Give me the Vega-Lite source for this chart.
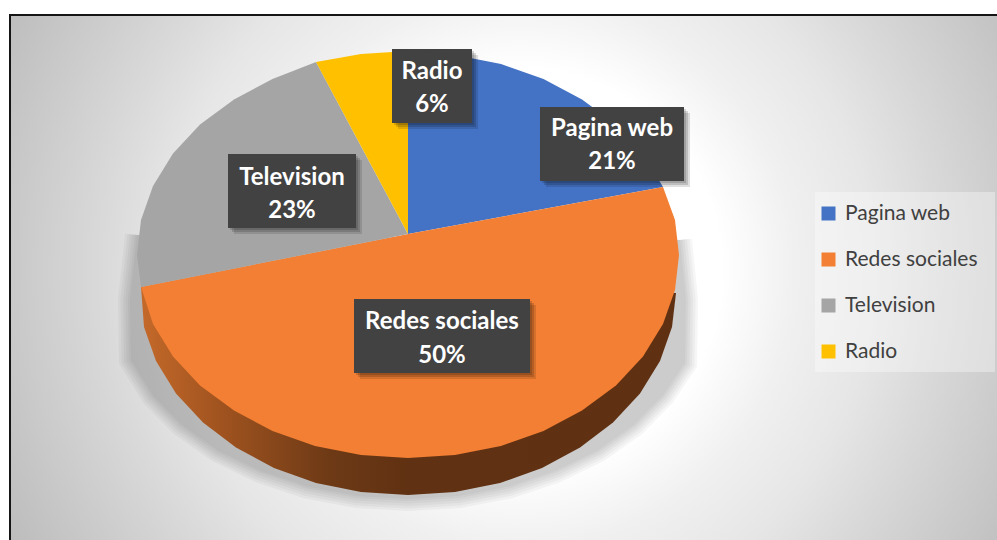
{
  "$schema": "https://vega.github.io/schema/vega-lite/v6.json",
  "width": 997,
  "height": 540,
  "padding": 0,
  "autosize": {"type": "none"},
  "background": "white",
  "view": {"stroke": null},
  "datasets": {
    "backdrop": [{"x": -80, "x2": 1120, "y": -330, "y2": 870}],
    "margins": [
      {"x": 0, "x2": 10, "y": 0, "y2": 540},
      {"x": 0, "x2": 997, "y": 0, "y2": 15}
    ],
    "frame": [
      {"x": 10, "x2": 10, "y": 14, "y2": 540},
      {"x": 10, "x2": 997, "y": 15, "y2": 15}
    ],
    "legendPanel": [{"x": 815, "x2": 995, "y": 192, "y2": 372}],
    "shadow": [
      {"step": 1, "x": 137, "y": 235}, {"step": 2, "x": 130, "y": 300}, {"step": 3, "x": 131, "y": 360},
      {"step": 4, "x": 153, "y": 395.5}, {"step": 5, "x": 182, "y": 425}, {"step": 6, "x": 218, "y": 450.5},
      {"step": 7, "x": 260.5, "y": 471}, {"step": 8, "x": 307, "y": 486.5}, {"step": 9, "x": 357, "y": 496},
      {"step": 10, "x": 408, "y": 499}, {"step": 11, "x": 459, "y": 496}, {"step": 12, "x": 509, "y": 486.5},
      {"step": 13, "x": 555.5, "y": 471}, {"step": 14, "x": 598, "y": 450.5}, {"step": 15, "x": 634, "y": 425},
      {"step": 16, "x": 663, "y": 395.5}, {"step": 17, "x": 685, "y": 363}, {"step": 18, "x": 686, "y": 300},
      {"step": 19, "x": 680, "y": 240}
    ],
    "rim": [
      {"step": 1, "x": 141, "y": 287}, {"step": 2, "x": 144, "y": 327}, {"step": 3, "x": 156, "y": 361},
      {"step": 4, "x": 176, "y": 393.5}, {"step": 5, "x": 203, "y": 422.5}, {"step": 6, "x": 236, "y": 447.5},
      {"step": 7, "x": 274, "y": 468}, {"step": 8, "x": 316, "y": 483}, {"step": 9, "x": 361, "y": 492},
      {"step": 10, "x": 408, "y": 495}, {"step": 11, "x": 455, "y": 492}, {"step": 12, "x": 500, "y": 483},
      {"step": 13, "x": 542, "y": 468}, {"step": 14, "x": 580, "y": 447.5}, {"step": 15, "x": 613, "y": 422.5},
      {"step": 16, "x": 640, "y": 393.5}, {"step": 17, "x": 660, "y": 361}, {"step": 18, "x": 672, "y": 327},
      {"step": 19, "x": 676, "y": 293}
    ],
    "slices": [
      {"slice": "Pagina web", "step": 1, "x": 408, "y": 234}, {"slice": "Pagina web", "step": 2, "x": 408, "y": 51},
      {"slice": "Pagina web", "step": 3, "x": 455, "y": 55}, {"slice": "Pagina web", "step": 4, "x": 501, "y": 64},
      {"slice": "Pagina web", "step": 5, "x": 543.5, "y": 79}, {"slice": "Pagina web", "step": 6, "x": 582, "y": 99.5},
      {"slice": "Pagina web", "step": 7, "x": 616, "y": 124.5}, {"slice": "Pagina web", "step": 8, "x": 643, "y": 153.5},
      {"slice": "Pagina web", "step": 9, "x": 663, "y": 187},

      {"slice": "Redes sociales", "step": 1, "x": 408, "y": 234}, {"slice": "Redes sociales", "step": 2, "x": 663, "y": 187},
      {"slice": "Redes sociales", "step": 3, "x": 675, "y": 220}, {"slice": "Redes sociales", "step": 4, "x": 679, "y": 255},
      {"slice": "Redes sociales", "step": 5, "x": 675, "y": 290}, {"slice": "Redes sociales", "step": 6, "x": 663, "y": 324},
      {"slice": "Redes sociales", "step": 7, "x": 643, "y": 356.5}, {"slice": "Redes sociales", "step": 8, "x": 616, "y": 385.5},
      {"slice": "Redes sociales", "step": 9, "x": 582, "y": 410.5}, {"slice": "Redes sociales", "step": 10, "x": 543.5, "y": 431},
      {"slice": "Redes sociales", "step": 11, "x": 501, "y": 446}, {"slice": "Redes sociales", "step": 12, "x": 455, "y": 455},
      {"slice": "Redes sociales", "step": 13, "x": 408, "y": 458}, {"slice": "Redes sociales", "step": 14, "x": 361, "y": 455},
      {"slice": "Redes sociales", "step": 15, "x": 315, "y": 446}, {"slice": "Redes sociales", "step": 16, "x": 272.5, "y": 431},
      {"slice": "Redes sociales", "step": 17, "x": 234, "y": 410.5}, {"slice": "Redes sociales", "step": 18, "x": 200, "y": 385.5},
      {"slice": "Redes sociales", "step": 19, "x": 173, "y": 356.5}, {"slice": "Redes sociales", "step": 20, "x": 153, "y": 324},
      {"slice": "Redes sociales", "step": 21, "x": 141, "y": 287},

      {"slice": "Television", "step": 1, "x": 408, "y": 234}, {"slice": "Television", "step": 2, "x": 141, "y": 287},
      {"slice": "Television", "step": 3, "x": 137, "y": 255}, {"slice": "Television", "step": 4, "x": 141, "y": 220},
      {"slice": "Television", "step": 5, "x": 153, "y": 186}, {"slice": "Television", "step": 6, "x": 173, "y": 153.5},
      {"slice": "Television", "step": 7, "x": 200, "y": 124.5}, {"slice": "Television", "step": 8, "x": 234, "y": 99.5},
      {"slice": "Television", "step": 9, "x": 272.5, "y": 79}, {"slice": "Television", "step": 10, "x": 316, "y": 62},

      {"slice": "Radio", "step": 1, "x": 408, "y": 234}, {"slice": "Radio", "step": 2, "x": 316, "y": 62},
      {"slice": "Radio", "step": 3, "x": 361, "y": 54}, {"slice": "Radio", "step": 4, "x": 408, "y": 51}
    ],
    "labels": [
      {"slice": "Pagina web", "share": 0.21, "x": 540, "x2": 684, "y": 107, "y2": 181, "cx": 612, "nameY": 136, "shareY": 169},
      {"slice": "Redes sociales", "share": 0.5, "x": 354, "x2": 530, "y": 299, "y2": 373, "cx": 442, "nameY": 329, "shareY": 363},
      {"slice": "Television", "share": 0.23, "x": 228, "x2": 356, "y": 154, "y2": 228, "cx": 292, "nameY": 185, "shareY": 218},
      {"slice": "Radio", "share": 0.06, "x": 392, "x2": 472, "y": 49, "y2": 123, "cx": 432, "nameY": 79, "shareY": 112}
    ]
  },
  "encoding": {
    "x": {"field": "x", "type": "quantitative", "axis": null, "scale": {"domain": [0, 997], "range": [0, 997]}},
    "y": {"field": "y", "type": "quantitative", "axis": null, "scale": {"domain": [0, 540], "range": [0, 540]}}
  },
  "layer": [
    {
      "data": {"name": "backdrop"},
      "mark": {"type": "rect", "fill": {"gradient": "radial", "x1": 0.5, "y1": 0.5, "r1": 0, "x2": 0.5, "y2": 0.5, "r2": 0.5, "stops": [
        {"offset": 0, "color": "#ffffff"}, {"offset": 0.336, "color": "#ffffff"}, {"offset": 0.46, "color": "#f0f0f0"},
        {"offset": 0.59, "color": "#e6e6e6"}, {"offset": 0.7, "color": "#d9d9d9"}, {"offset": 0.79, "color": "#cfcfcf"}, {"offset": 1, "color": "#b8b8b8"}
      ]}},
      "encoding": {"x2": {"field": "x2"}, "y2": {"field": "y2"}}
    },
    {
      "data": {"name": "margins"},
      "mark": {"type": "rect", "fill": "#ffffff"},
      "encoding": {"x2": {"field": "x2"}, "y2": {"field": "y2"}}
    },
    {
      "data": {"name": "frame"},
      "mark": {"type": "rule", "color": "#151515", "strokeWidth": 2},
      "encoding": {"x2": {"field": "x2"}, "y2": {"field": "y2"}}
    },
    {
      "data": {"name": "legendPanel"},
      "mark": {"type": "rect", "fill": "#ffffff", "opacity": 0.35},
      "encoding": {"x2": {"field": "x2"}, "y2": {"field": "y2"}}
    },
    {"data": {"name": "shadow"}, "mark": {"type": "line", "fill": "#000000", "stroke": "#000000", "strokeWidth": 24, "opacity": 0.033}, "encoding": {"order": {"field": "step"}}},
    {"data": {"name": "shadow"}, "mark": {"type": "line", "fill": "#000000", "stroke": "#000000", "strokeWidth": 19, "opacity": 0.033}, "encoding": {"order": {"field": "step"}}},
    {"data": {"name": "shadow"}, "mark": {"type": "line", "fill": "#000000", "stroke": "#000000", "strokeWidth": 14, "opacity": 0.033}, "encoding": {"order": {"field": "step"}}},
    {"data": {"name": "shadow"}, "mark": {"type": "line", "fill": "#000000", "stroke": "#000000", "strokeWidth": 9, "opacity": 0.033}, "encoding": {"order": {"field": "step"}}},
    {"data": {"name": "shadow"}, "mark": {"type": "line", "fill": "#000000", "stroke": "#000000", "strokeWidth": 4, "opacity": 0.033}, "encoding": {"order": {"field": "step"}}},
    {"data": {"name": "shadow"}, "mark": {"type": "line", "fill": "#000000", "stroke": "#000000", "strokeWidth": 0, "opacity": 0.033}, "encoding": {"order": {"field": "step"}}},
    {
      "data": {"name": "rim"},
      "mark": {"type": "line", "strokeWidth": 0, "fill": {"gradient": "linear", "x1": 0, "y1": 0, "x2": 1, "y2": 0, "stops": [
        {"offset": 0, "color": "#c4692a"}, {"offset": 0.15, "color": "#a0531f"}, {"offset": 0.35, "color": "#6e3a16"}, {"offset": 0.5, "color": "#603112"}, {"offset": 1, "color": "#5f3012"}
      ]}},
      "encoding": {"order": {"field": "step"}}
    },
    {
      "data": {"name": "slices"},
      "mark": {"type": "line", "filled": true, "strokeWidth": 0},
      "encoding": {
        "order": {"field": "step"},
        "color": {
          "field": "slice",
          "type": "nominal",
          "sort": null,
          "scale": {"domain": ["Pagina web", "Redes sociales", "Television", "Radio"], "range": ["#4472c4", "#f27f33", "#a5a5a5", "#ffc000"]},
          "legend": {
            "orient": "none", "legendX": 818, "legendY": 203, "title": null, "padding": 0,
            "symbolType": "square", "symbolSize": 196, "symbolStrokeWidth": 0, "symbolOpacity": 1,
            "labelFont": "Lato", "labelFontSize": 21, "labelColor": "#404040", "labelOffset": 6, "rowPadding": 24
          }
        }
      }
    },
    {"data": {"name": "labels"}, "mark": {"type": "rect", "fill": "#000000", "opacity": 0.12, "xOffset": 6, "x2Offset": 6, "yOffset": 6, "y2Offset": 6}, "encoding": {"x2": {"field": "x2"}, "y2": {"field": "y2"}}},
    {"data": {"name": "labels"}, "mark": {"type": "rect", "fill": "#000000", "opacity": 0.15, "xOffset": 4, "x2Offset": 4, "yOffset": 4, "y2Offset": 4}, "encoding": {"x2": {"field": "x2"}, "y2": {"field": "y2"}}},
    {"data": {"name": "labels"}, "mark": {"type": "rect", "fill": "#000000", "opacity": 0.15, "xOffset": 2, "x2Offset": 2, "yOffset": 2, "y2Offset": 2}, "encoding": {"x2": {"field": "x2"}, "y2": {"field": "y2"}}},
    {"data": {"name": "labels"}, "mark": {"type": "rect", "fill": "#424242"}, "encoding": {"x2": {"field": "x2"}, "y2": {"field": "y2"}}},
    {
      "data": {"name": "labels"},
      "mark": {"type": "text", "font": "Lato", "fontWeight": "bold", "fontSize": 24, "color": "#ffffff", "align": "center", "baseline": "alphabetic"},
      "encoding": {"x": {"field": "cx", "type": "quantitative"}, "y": {"field": "nameY", "type": "quantitative"}, "text": {"field": "slice"}}
    },
    {
      "data": {"name": "labels"},
      "mark": {"type": "text", "font": "Lato", "fontWeight": "bold", "fontSize": 24, "color": "#ffffff", "align": "center", "baseline": "alphabetic"},
      "encoding": {"x": {"field": "cx", "type": "quantitative"}, "y": {"field": "shareY", "type": "quantitative"}, "text": {"field": "share", "type": "quantitative", "format": ".0%"}}
    }
  ]
}
